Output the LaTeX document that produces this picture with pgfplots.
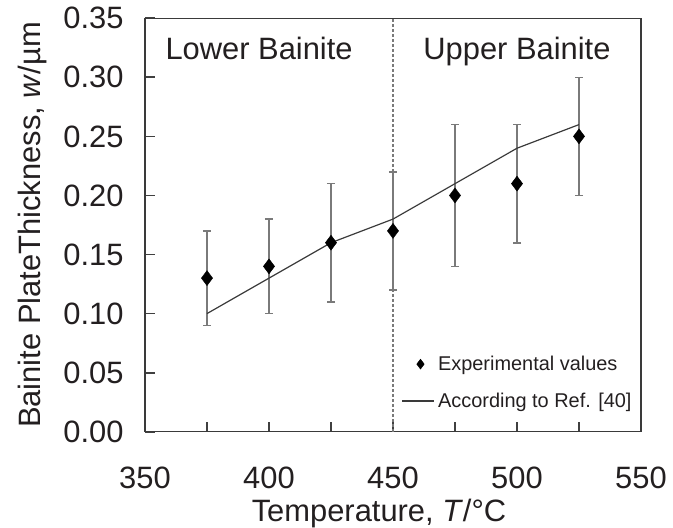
\documentclass[border=0pt]{standalone}
\usepackage{pgfplots}
\pgfplotsset{compat=1.18}
\usepackage{fontspec}
\setmainfont{Liberation Sans}
\definecolor{txt}{HTML}{231F20}
\definecolor{framecol}{HTML}{3A3A3A}
\definecolor{ebar}{HTML}{7A7A7A}
\begin{document}
\begin{tikzpicture}
\begin{axis}[
  scale only axis,
  width=496bp, height=413.4bp,
  xmin=350, xmax=550, ymin=0, ymax=0.35,
  axis line style={draw=framecol, line width=1.4bp},
  xtick pos=bottom, ytick pos=left,
  xtick={350,400,450,500,550},
  minor xtick={375,425,475,525},
  ytick={0,0.05,0.10,0.15,0.20,0.25,0.30,0.35},
  tickwidth=10bp, subtickwidth=10bp,
  every tick/.append style={draw=black!75, line width=1.8bp},
  /pgf/number format/assume math mode=true,
  yticklabel style={/pgf/number format/fixed, /pgf/number format/precision=2, /pgf/number format/fixed zerofill, xshift=-18bp},
  xticklabel style={/pgf/number format/set thousands separator={}, yshift=-32bp},
  scaled y ticks=false,
  ticklabel style={font=\fontsize{31}{36}\selectfont, text=txt},
  label style={font=\fontsize{31}{36}\selectfont, text=txt},
  xlabel={Temperature, \textit{T}/\textdegree C},
  ylabel={Bainite PlateThickness, \textit{w}/µm},
  xlabel style={yshift=-3bp, xshift=-14bp},
  ylabel style={yshift=10bp},
  legend style={at={(rel axis cs:0.5175,0.188)}, anchor=north west, draw=none, fill=none,
    font=\fontsize{20}{24}\selectfont, text=txt, row sep=17bp, inner sep=0pt,
    nodes={inner xsep=3bp}},
  legend cell align=left,
]
\addplot[ebar, line width=1.3bp, forget plot, dash pattern=on 3bp off 2bp] coordinates {(450,0) (450,0.35)};
\addplot[black, only marks, mark=diamond*, mark size=7.5bp,
  legend image code/.code={\path[black, mark=diamond*, mark size=5bp] plot coordinates {(18bp,0bp)};},
  error bars/.cd, y dir=both, y explicit,
  error bar style={ebar, line width=1.6bp}, error mark options={ebar, line width=1.6bp, mark size=4bp, rotate=90}]
  coordinates {
  (375,0.13) +- (0,0.04)
  (400,0.14) +- (0,0.04)
  (425,0.16) +- (0,0.05)
  (450,0.17) +- (0,0.05)
  (475,0.20) +- (0,0.06)
  (500,0.21) +- (0,0.05)
  (525,0.25) +- (0,0.05)
  };
\addlegendentry{Experimental values}
\addplot[framecol, line width=1.2bp, mark=none,
  legend image code/.code={\draw[framecol, line width=1.2bp] (0bp,0bp) -- (32bp,0bp);}] coordinates {
  (375,0.10) (400,0.13) (425,0.16) (450,0.18) (475,0.21) (500,0.24) (525,0.26)
  };
\addlegendentry{According to Ref. [40]}
\node[font=\fontsize{31}{36}\selectfont, text=txt, anchor=base] at (axis cs:396,0.3147) {Lower Bainite};
\node[font=\fontsize{31}{36}\selectfont, text=txt, anchor=base] at (axis cs:500,0.3147) {Upper Bainite};
\end{axis}
\pgfresetboundingbox
\path[use as bounding box] ([shift={(-145bp,-96.3bp)}]current axis.south west) rectangle ++(673bp,528bp);
\end{tikzpicture}
\end{document}
